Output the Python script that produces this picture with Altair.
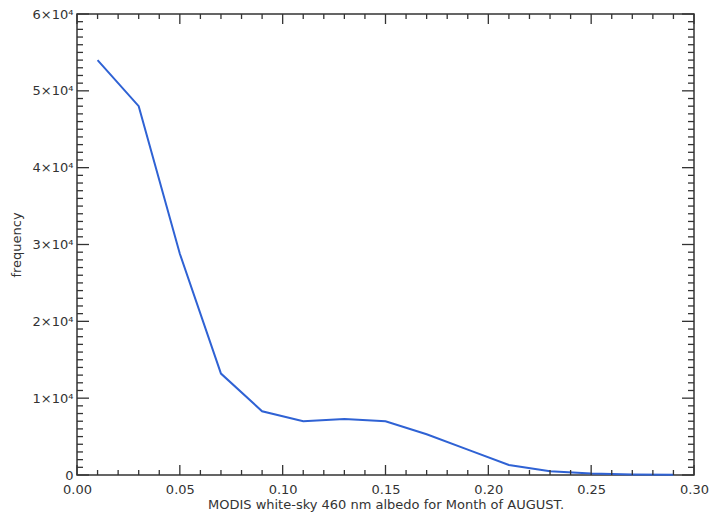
import altair as alt
import pandas as pd

# Data
albedo = [0.01, 0.03, 0.05, 0.07, 0.09, 0.11, 0.13, 0.15, 0.17, 0.19, 0.21, 0.23, 0.25, 0.27, 0.29]
freq = [54000, 48000, 28800, 13200, 8300, 7000, 7300, 7000, 5300, 3300, 1300, 500, 200, 80, 30]

x_major = [0.00, 0.05, 0.10, 0.15, 0.20, 0.25, 0.30]
x_minor = [0.01, 0.02, 0.03, 0.04, 0.06, 0.07, 0.08, 0.09, 0.11, 0.12, 0.13, 0.14,
           0.16, 0.17, 0.18, 0.19, 0.21, 0.22, 0.23, 0.24, 0.26, 0.27, 0.28, 0.29]
y_major = [0, 10000, 20000, 30000, 40000, 50000, 60000]
y_minor = [v for v in range(1000, 60000, 1000) if v % 10000 != 0]

W, H = 617, 461
INK = "#333333"
FONT = "DejaVu Sans"

xs = alt.Scale(domain=[0, 0.3], nice=False, zero=False)
ys = alt.Scale(domain=[0, 60000], nice=False)

x_axis = alt.Axis(values=x_major, format=".2f", ticks=False, domain=False, grid=False,
                  labelPadding=8, labelFontSize=13, labelFont=FONT, labelColor=INK,
                  title="MODIS white-sky 460 nm albedo for Month of AUGUST.",
                  titleFont=FONT, titleFontSize=13, titleFontWeight="normal",
                  titleColor=INK, titlePadding=2, labelFlush=False)
y_axis = alt.Axis(values=y_major,
                  labelExpr="datum.value == 0 ? '0' : format(datum.value / 10000, 'd') + '×10⁴'",
                  ticks=False, domain=False, grid=False, labelPadding=4,
                  labelFontSize=13, labelFont=FONT, labelColor=INK,
                  title="frequency", titleFont=FONT, titleFontSize=13,
                  titleFontWeight="normal", titleColor=INK,
                  titleX=-61, titleY=H / 2, titleAngle=270,
                  titleAlign="center", titleBaseline="middle", labelFlush=False)

line_df = pd.DataFrame({"albedo": albedo, "freq": freq})
xmaj = pd.DataFrame({"v": x_major})
xmin = pd.DataFrame({"v": x_minor})
ymaj = pd.DataFrame({"v": y_major})
ymin = pd.DataFrame({"v": y_minor})

line = alt.Chart(line_df).mark_line(color="#2f62d4", strokeWidth=2).encode(
    x=alt.X("albedo:Q", scale=xs, axis=x_axis),
    y=alt.Y("freq:Q", scale=ys, axis=y_axis),
)

def xticks(df, length):
    bottom = alt.Chart(df).mark_rule(color=INK, strokeWidth=1.3).encode(
        x=alt.X("v:Q", scale=xs, axis=x_axis), y=alt.value(H), y2=alt.value(H - length))
    top = alt.Chart(df).mark_rule(color=INK, strokeWidth=1.3).encode(
        x=alt.X("v:Q", scale=xs, axis=x_axis), y=alt.value(0), y2=alt.value(length))
    return [bottom, top]

def yticks(df, length):
    left = alt.Chart(df).mark_rule(color=INK, strokeWidth=1.3).encode(
        y=alt.Y("v:Q", scale=ys, axis=y_axis), x=alt.value(0), x2=alt.value(length))
    right = alt.Chart(df).mark_rule(color=INK, strokeWidth=1.3).encode(
        y=alt.Y("v:Q", scale=ys, axis=y_axis), x=alt.value(W), x2=alt.value(W - length))
    return [left, right]

layers = [line] + xticks(xmaj, 10) + xticks(xmin, 5) + yticks(ymaj, 12) + yticks(ymin, 6)

chart = alt.layer(*layers).properties(
    width=W, height=H,
    background="white",
    autosize=alt.AutoSizeParams(type="none"),
    padding={"left": 69, "top": 6, "right": 16, "bottom": 39},
).configure_view(stroke=INK, strokeWidth=1.5)

chart.save("out.html", embed_options={"renderer": "svg", "actions": False})
